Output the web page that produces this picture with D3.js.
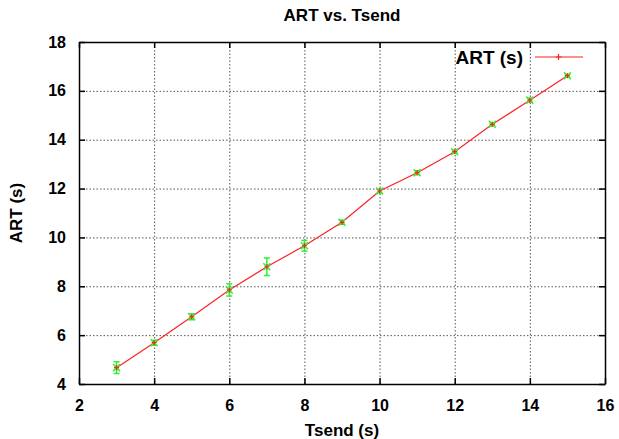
<!DOCTYPE html>
<html>
<head>
<meta charset="utf-8">
<script src="https://cdn.jsdelivr.net/npm/d3@7"></script>
<style>
  body { margin: 0; background: #fff; }
  text { font-family: "Liberation Sans", Arial, sans-serif; font-weight: bold; }
</style>
</head>
<body>
<div id="chart"></div>
<script>
// ART vs Tsend, gnuplot style
const tsend = [3, 4, 5, 6, 7, 8, 9, 10, 11, 12, 13, 14, 15];
const art = [4.67, 5.69, 6.75, 7.85, 8.80, 9.66, 10.62, 11.90, 12.65, 13.51, 14.63, 15.62, 16.62];
const artErr = [0.24, 0.1, 0.12, 0.25, 0.36, 0.22, 0.08, 0.08, 0.08, 0.06, 0.06, 0.08, 0.06];
const xTicks = [2, 4, 6, 8, 10, 12, 14, 16];
const yTicks = [4, 6, 8, 10, 12, 14, 16, 18];

const width = 619, height = 439;
const padding = { top: 42, bottom: 55, left: 79, right: 14 };

const data = tsend.map((t, i) => ({ x: t, y: art[i], e: artErr[i] }));

const svg = d3.select("#chart").append("svg")
  .attr("width", width)
  .attr("height", height);

const xScale = d3.scaleLinear().domain([2, 16]).range([padding.left, width - padding.right]);
const yScale = d3.scaleLinear().domain([4, 18]).range([height - padding.bottom, padding.top]);

const x0 = padding.left, x1 = width - padding.right;
const y0 = height - padding.bottom, y1 = padding.top;

// grid
const grid = svg.append("g").attr("stroke", "#555").attr("stroke-width", 1).attr("stroke-dasharray", "1.5,2");
grid.selectAll(".gx").data(xTicks.slice(1, -1)).enter().append("line")
  .attr("x1", d => xScale(d) + 0.5).attr("x2", d => xScale(d) + 0.5)
  .attr("y1", y0).attr("y2", y1);
grid.selectAll(".gy").data(yTicks.slice(1, -1)).enter().append("line")
  .attr("y1", d => yScale(d) + 0.5).attr("y2", d => yScale(d) + 0.5)
  .attr("x1", x0).attr("x2", x1);

// axes (ticks inward, mirrored)
const xAxis = d3.axisBottom(xScale).tickValues(xTicks).tickSizeInner(-6).tickSizeOuter(0).tickPadding(16);
const yAxis = d3.axisLeft(yScale).tickValues(yTicks).tickSizeInner(-6).tickSizeOuter(0).tickPadding(13);

svg.append("g").attr("transform", `translate(0,${y0})`).call(xAxis)
  .call(g => g.selectAll("text").attr("font-size", 16).attr("fill", "#000"));
svg.append("g").attr("transform", `translate(${x0},0)`).call(yAxis)
  .call(g => g.selectAll("text").attr("font-size", 16).attr("fill", "#000"));
svg.append("g").attr("transform", `translate(0,${y1})`)
  .call(d3.axisTop(xScale).tickValues(xTicks).tickSizeInner(-6).tickSizeOuter(0).tickFormat(""));
svg.append("g").attr("transform", `translate(${x1},0)`)
  .call(d3.axisRight(yScale).tickValues(yTicks).tickSizeInner(-6).tickSizeOuter(0).tickFormat(""));
svg.selectAll(".domain").attr("stroke", "#000").attr("stroke-width", 1.5);
svg.selectAll(".tick line").attr("stroke", "#000").attr("stroke-width", 1.5);

// title + labels
svg.append("text").attr("x", (x0 + x1) / 2).attr("y", 21).attr("text-anchor", "middle")
  .attr("font-size", 17).text("ART vs. Tsend");
svg.append("text").attr("x", (x0 + x1) / 2).attr("y", 436).attr("text-anchor", "middle")
  .attr("font-size", 17).text("Tsend (s)");
svg.append("text").attr("transform", `translate(22,${(y0 + y1) / 2}) rotate(-90)`)
  .attr("text-anchor", "middle").attr("font-size", 17).text("ART (s)");

// line
const line = d3.line().x(d => xScale(d.x)).y(d => yScale(d.y));
svg.append("path").datum(data).attr("fill", "none").attr("stroke", "#ff2020")
  .attr("stroke-width", 1.2).attr("d", line);

// error bars (green)
const eb = svg.append("g").attr("stroke", "#33ee33").attr("stroke-width", 1.5);
eb.selectAll(".ev").data(data).enter().append("line")
  .attr("x1", d => xScale(d.x)).attr("x2", d => xScale(d.x))
  .attr("y1", d => yScale(d.y - d.e)).attr("y2", d => yScale(d.y + d.e));
eb.selectAll(".ct").data(data).enter().append("line")
  .attr("x1", d => xScale(d.x) - 3).attr("x2", d => xScale(d.x) + 3)
  .attr("y1", d => yScale(d.y + d.e)).attr("y2", d => yScale(d.y + d.e));
eb.selectAll(".cb").data(data).enter().append("line")
  .attr("x1", d => xScale(d.x) - 3).attr("x2", d => xScale(d.x) + 3)
  .attr("y1", d => yScale(d.y - d.e)).attr("y2", d => yScale(d.y - d.e));
eb.selectAll(".mx").data(data).enter().append("path")
  .attr("d", d => {
    const cx = xScale(d.x), cy = yScale(d.y), r = 3.5;
    return `M${cx - r},${cy - r}L${cx + r},${cy + r}M${cx - r},${cy + r}L${cx + r},${cy - r}`;
  });

// red + markers
svg.append("g").attr("stroke", "#ff2020").attr("stroke-width", 1.2)
  .selectAll("path").data(data).enter().append("path")
  .attr("d", d => {
    const cx = xScale(d.x), cy = yScale(d.y), r = 2.5;
    return `M${cx - r},${cy}L${cx + r},${cy}M${cx},${cy - r}L${cx},${cy + r}`;
  });

// legend
const legend = svg.append("g");
legend.append("text").attr("x", 523).attr("y", 64).attr("text-anchor", "end")
  .attr("font-size", 19).text("ART (s)");
legend.append("line").attr("x1", 535).attr("x2", 583).attr("y1", 57).attr("y2", 57)
  .attr("stroke", "#ff2020").attr("stroke-width", 1.2);
legend.append("path").attr("d", "M555.5,57L561.5,57M558.5,54L558.5,60")
  .attr("stroke", "#ff2020").attr("stroke-width", 1.2);
</script>
</body>
</html>
